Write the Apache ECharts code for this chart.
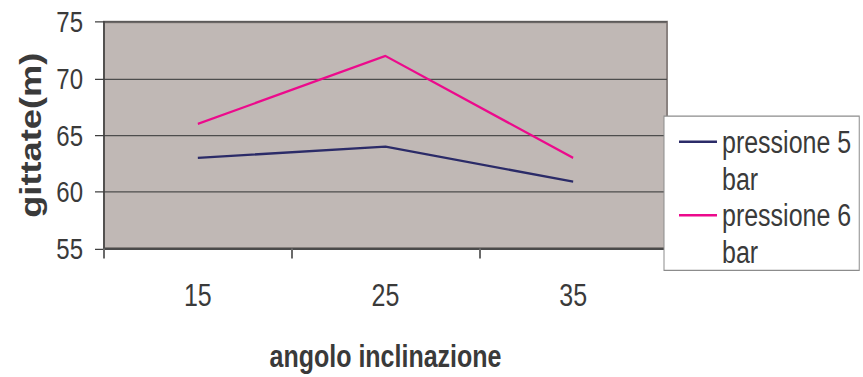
<!DOCTYPE html>
<html>
<head>
<meta charset="utf-8">
<script src="https://cdn.jsdelivr.net/npm/echarts@6/dist/echarts.min.js"></script>
<style>
  html, body { margin: 0; padding: 0; background: #ffffff; width: 863px; height: 377px; }
  /* the chart is laid out in a shorter box and stretched vertically, giving the tall lettering */
  #chart { width: 863px; height: 301.6px; transform: scaleY(1.25); transform-origin: 0 0; }
</style>
</head>
<body>
<div id="chart"></div>
<script>
// Angolo di inclinazione (gradi) e gittata misurata (m) per due pressioni
const categories = ['15', '25', '35'];
const pressione5 = [63, 64, 60.9];
const pressione6 = [66, 72, 63];
const seriesNames = ['pressione 5\nbar', 'pressione 6\nbar'];
const yTicks = { min: 55, max: 75, step: 5 };

const font = '"Liberation Sans", Arial, Helvetica, sans-serif';
const textColor = '#3a3a3a';
const colors = ['#2b2b68', '#ec0a8c'];

// legend glyph: short bar level with the first text line, plus an empty anchor that sets its box height
const legendIcon = 'path://M0,0H38V2H0Z M0,31.4H0.01V31.41H0Z';

const chart = echarts.init(document.getElementById('chart'), null, { renderer: 'svg' });

chart.setOption({
  backgroundColor: '#ffffff',
  animation: false,
  grid: {
    left: 104, right: 196, top: 17.6, bottom: 103.2,
    outerBoundsMode: 'none',
    containLabel: false,
    show: true,
    backgroundColor: '#c0b8b5',
    borderColor: '#8a8280',
    borderWidth: 2
  },
  legend: {
    orient: 'vertical',
    left: 664, top: 92.8,
    padding: [5.9, 8, 0, 15],
    itemGap: 0,
    itemWidth: 38, itemHeight: 31.4,
    icon: legendIcon,
    itemStyle: { borderWidth: 0 },
    backgroundColor: '#ffffff',
    borderColor: '#8c8c8c',
    borderWidth: 1,
    borderRadius: 0,
    selectedMode: false,
    textStyle: { fontFamily: font, fontSize: 25, color: textColor, lineHeight: 29.4 },
    data: seriesNames
  },
  xAxis: {
    type: 'category',
    data: categories,
    boundaryGap: true,
    name: 'angolo inclinazione',
    nameLocation: 'middle',
    nameGap: 73.5,
    nameTextStyle: { fontFamily: font, fontSize: 25, fontWeight: 'bold', color: textColor },
    axisLine: { show: true, lineStyle: { color: '#4a4a4a', width: 1.6 } },
    axisTick: { show: true, length: 8, lineStyle: { color: '#6a6a6a', width: 2 } },
    axisLabel: { margin: 25, fontFamily: font, fontSize: 25, color: textColor },
    splitLine: { show: false }
  },
  yAxis: {
    type: 'value',
    min: yTicks.min, max: yTicks.max, interval: yTicks.step,
    name: 'gittate(m)',
    nameLocation: 'middle',
    nameGap: 58,
    nameRotate: 90,
    nameTextStyle: { fontFamily: font, fontSize: 29, fontWeight: 'bold', color: textColor },
    axisLine: { show: true, lineStyle: { color: '#404040', width: 1.5 } },
    axisTick: { show: true, length: 9, lineStyle: { color: '#404040', width: 1 } },
    axisLabel: { margin: 21, fontFamily: font, fontSize: 24, color: textColor },
    splitLine: { show: true, lineStyle: { color: '#4d4d4d', width: 1 } }
  },
  series: [
    {
      name: seriesNames[0], type: 'line', data: pressione5,
      symbol: 'none', color: colors[0],
      lineStyle: { color: colors[0], width: 1.9 },
      itemStyle: { color: colors[0] }
    },
    {
      name: seriesNames[1], type: 'line', data: pressione6,
      symbol: 'none', color: colors[1],
      lineStyle: { color: colors[1], width: 1.9 },
      itemStyle: { color: colors[1] }
    }
  ]
});
</script>
</body>
</html>
